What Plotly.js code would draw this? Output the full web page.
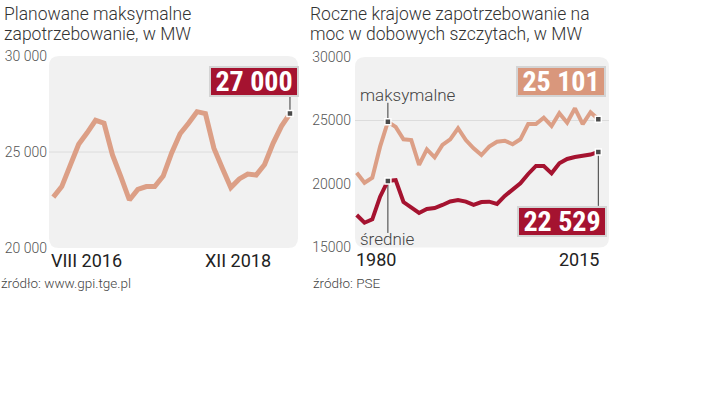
<!DOCTYPE html>
<html><head><meta charset="utf-8">
<script src="https://cdn.plot.ly/plotly-3.0.1.min.js"></script>
<style>html,body{margin:0;padding:0;background:#fff}#chart{width:720px;height:393px}</style>
</head><body><div id="chart"></div>
<script>
// ---- data: left chart (planned maximum demand, monthly) ----
const leftMonths = ['VIII 2016','IX 2016','X 2016','XI 2016','XII 2016',
  'I 2017','II 2017','III 2017','IV 2017','V 2017','VI 2017','VII 2017','VIII 2017','IX 2017','X 2017','XI 2017','XII 2017',
  'I 2018','II 2018','III 2018','IV 2018','V 2018','VI 2018','VII 2018','VIII 2018','IX 2018','X 2018','XI 2018','XII 2018'];
const leftValues = [22650, 23200, 24300, 25400, 26000, 26650, 26500, 24850, 23700, 22500, 23050, 23200, 23200, 23750,
  24950, 25950, 26500, 27100, 27000, 25200, 24150, 23150, 23600, 23850, 23800, 24350, 25450, 26350, 27000];
const leftYTicks = [20000, 25000, 30000];
const leftYTickText = ['20 000', '25 000', '30 000'];
const leftGrid = [25000];
const leftXLabels = ['VIII 2016', 'XII 2018'];
const leftTitle = ['Planowane maksymalne', 'zapotrzebowanie, w MW'];
const leftSource = 'źródło: www.gpi.tge.pl';

// ---- data: right chart (annual demand in daily peaks) ----
const rightIndex = [0,1,2,3,4,5,6,7,8,9,10,11,12,13,14,15,16,17,18,19,20,21,22,23,24,25,26,27,28,29,30,31];
const rightMax = [20890, 20100, 20500, 22940, 24900, 24500, 23520, 23460, 21500, 22730, 22100, 23070, 23520, 24390, 23460, 22810,
  22280, 22940, 23330, 23410, 23130, 23520, 24720, 24720, 25220, 24570, 25570, 24830, 25960, 24720, 25650, 25101];
const rightAvg = [17560, 16950, 17220, 19000, 20240, 20310, 18580, 18190, 17720, 18030, 18110, 18350, 18620, 18740, 18610, 18350,
  18580, 18610, 18430, 19060, 19610, 20060, 20790, 21420, 21420, 20840, 21630, 21970, 22130, 22200, 22320, 22529];
const rightYTicks = [15000, 20000, 25000, 30000];
const rightYTickText = ['15000', '20000', '25000', '30000'];
const rightGrid = [25000];
const rightXLabels = ['1980', '2015'];
const seriesNames = ['maksymalne', 'średnie'];
const markIdx = [4, 31];
const rightTitle = ['Roczne krajowe zapotrzebowanie na', 'moc w dobowych szczytach, w MW'];
const rightSource = 'źródło: PSE';

// ---- styling ----
const W = 720, H = 393;
const px = x => x / W, py = y => 1 - y / H;
const SALMON = '#dc9f86', DARK = '#a51330', PANEL = '#f1f1f1', GRID = '#dcdcdc';
const FONT = 'Roboto, "Liberation Sans", sans-serif';
const BIG = '"Liberation Sans Narrow", "Roboto Condensed", "Liberation Sans", sans-serif';
const fmt = n => String(n).replace(/\B(?=(\d{3})+(?!\d))/g, ' ');
const last = a => a[a.length - 1];

const LX = [px(49), px(298)], LY = [py(248), py(56)];
const RX = [px(355), px(609)], RY = [py(247.5), py(57)];

function roundRect(xd, yd, r) {
  const rx = r / W, ry = r / H;
  const [x0, x1] = xd, [y0, y1] = yd;
  return `M${x0+rx},${y0} L${x1-rx},${y0} Q${x1},${y0} ${x1},${y0+ry} L${x1},${y1-ry} Q${x1},${y1} ${x1-rx},${y1} ` +
         `L${x0+rx},${y1} Q${x0},${y1} ${x0},${y1-ry} L${x0},${y0+ry} Q${x0},${y0} ${x0+rx},${y0} Z`;
}

const markerStyle = {symbol: 'square', size: 6, color: '#4a4a4a', line: {color: '#ffffff', width: 1.5}};

const traces = [
  {x: leftMonths, y: leftValues, type: 'scatter', mode: 'lines', xaxis: 'x', yaxis: 'y',
   line: {color: SALMON, width: 5, shape: 'linear'}, hoverinfo: 'skip'},
  {x: [last(leftMonths)], y: [last(leftValues)], type: 'scatter', mode: 'markers', xaxis: 'x', yaxis: 'y',
   marker: markerStyle, hoverinfo: 'skip'},
  {x: rightIndex, y: rightMax, name: seriesNames[0], type: 'scatter', mode: 'lines', xaxis: 'x2', yaxis: 'y2',
   line: {color: SALMON, width: 4}, hoverinfo: 'skip'},
  {x: rightIndex, y: rightAvg, name: seriesNames[1], type: 'scatter', mode: 'lines', xaxis: 'x2', yaxis: 'y2',
   line: {color: DARK, width: 4}, hoverinfo: 'skip'},
  {x: markIdx.map(i => rightIndex[i]), y: markIdx.map(i => rightMax[i]), type: 'scatter', mode: 'markers',
   xaxis: 'x2', yaxis: 'y2', marker: markerStyle, hoverinfo: 'skip'},
  {x: markIdx.map(i => rightIndex[i]), y: markIdx.map(i => rightAvg[i]), type: 'scatter', mode: 'markers',
   xaxis: 'x2', yaxis: 'y2', marker: markerStyle, hoverinfo: 'skip'}
];

const hiddenX = {showgrid: false, zeroline: false, showline: false, showticklabels: false, ticks: '', fixedrange: true};
const yBase = {showgrid: false, zeroline: false, showline: false, ticks: '',
  tickfont: {family: FONT, size: 14, color: '#555', weight: 300}, fixedrange: true};

function txt(text, x, y, xanchor, size, color, weight, yanchor) {
  return {text, x, y, xref: 'paper', yref: 'paper', xanchor, yanchor: yanchor || 'middle', showarrow: false,
          align: 'left', borderpad: 0, font: {family: FONT, size, color, weight: weight || 400}};
}
function callout(text, cx, cy, bg) {
  return {text, x: px(cx), y: py(cy), xref: 'paper', yref: 'paper', xanchor: 'center', yanchor: 'middle',
          showarrow: false, width: 86, height: 27, borderpad: 0, borderwidth: 2, bordercolor: '#d4d4d4',
          bgcolor: bg, font: {family: BIG, size: 28, color: '#ffffff', weight: 700}};
}

const annotations = [
  txt(leftTitle[0], px(3), py(13.5), 'left', 17.5, '#333', 300),
  txt(leftTitle[1], px(3), py(34), 'left', 17.5, '#333', 300),
  txt(rightTitle[0], px(309), py(13.5), 'left', 17.5, '#333', 300),
  txt(rightTitle[1], px(309), py(34), 'left', 17.5, '#333', 300),
  txt(leftXLabels[0], px(50), py(260), 'left', 18, '#222', 400),
  txt(leftXLabels[1], px(272), py(260), 'right', 18, '#222', 400),
  txt(rightXLabels[0], px(355), py(259), 'left', 18, '#222', 400),
  txt(rightXLabels[1], px(600), py(259), 'right', 18, '#222', 400),
  txt(leftSource, px(0), py(283), 'left', 13.5, '#444', 300),
  txt(rightSource, px(312), py(283), 'left', 13.5, '#444', 300),
  txt(seriesNames[0], px(359), py(95), 'left', 17, '#444', 300),
  txt(seriesNames[1], px(359), py(239), 'left', 17, '#444', 300),
  callout(fmt(last(leftValues)), 254, 81, DARK),
  callout(fmt(last(rightMax)), 561, 81.5, '#d9977c'),
  callout(fmt(last(rightAvg)), 562, 221.5, DARK)
];

function connector(xref, yref, xv, yv, len) {
  return {type: 'line', xref, yref, x0: xv, x1: xv, ysizemode: 'pixel', yanchor: yv, y0: 0, y1: len,
          line: {color: '#3a3a3a', width: 1}, layer: 'below'};
}

const shapes = [
  {type: 'path', xref: 'paper', yref: 'paper', path: roundRect(LX, LY, 10), fillcolor: PANEL, line: {width: 0}, layer: 'below'},
  {type: 'path', xref: 'paper', yref: 'paper', path: roundRect(RX, RY, 10), fillcolor: PANEL, line: {width: 0}, layer: 'below'},
  ...leftGrid.map(g => ({type: 'line', xref: 'x domain', yref: 'y', x0: 0, x1: 1, y0: g, y1: g, line: {color: GRID, width: 1}, layer: 'below'})),
  ...rightGrid.map(g => ({type: 'line', xref: 'x2 domain', yref: 'y2', x0: 0, x1: 1, y0: g, y1: g, line: {color: GRID, width: 1}, layer: 'below'})),
  connector('x', 'y', last(leftMonths), last(leftValues), 18),
  connector('x2', 'y2', rightIndex[markIdx[0]], rightMax[markIdx[0]], 19),
  connector('x2', 'y2', rightIndex[markIdx[0]], rightAvg[markIdx[0]], -52),
  connector('x2', 'y2', rightIndex[markIdx[1]], rightAvg[markIdx[1]], -54)
];

const layout = {
  width: W, height: H, margin: {l: 0, r: 0, t: 0, b: 0}, showlegend: false,
  paper_bgcolor: '#ffffff', plot_bgcolor: 'rgba(0,0,0,0)',
  xaxis: Object.assign({}, hiddenX, {domain: LX, type: 'category', range: [-0.51, 28.95], anchor: 'y'}),
  yaxis: Object.assign({}, yBase, {domain: LY, range: [20000, 30000], tickvals: leftYTicks, ticktext: leftYTickText, anchor: 'x', ticklabelstandoff: 1}),
  xaxis2: Object.assign({}, hiddenX, {domain: RX, range: [-0.22, 32.37], anchor: 'y2'}),
  yaxis2: Object.assign({}, yBase, {domain: RY, range: [15000, 30000], tickvals: rightYTicks, ticktext: rightYTickText, anchor: 'x2', ticklabelstandoff: 3}),
  annotations, shapes
};

Plotly.newPlot('chart', traces, layout, {staticPlot: true, displayModeBar: false});
</script>
</body></html>
